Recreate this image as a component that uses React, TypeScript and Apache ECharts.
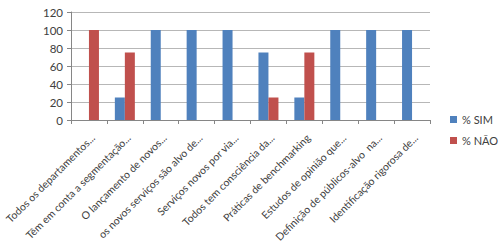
import React, { useEffect, useRef } from "react";
import * as echarts from "echarts";

const categories = [
  "Todos os departamentos...",
  "Têm em conta a segmentação...",
  "O lançamento de novos...",
  "os novos serviços são alvo de...",
  "Serviços novos por via...",
  "Todos tem consciência da...",
  "Práticas de benchmarking",
  "Estudos de opinião que...",
  "Definição de públicos-alvo  na...",
  "Identificação rigorosa de...",
];
const simValues = [0, 25, 100, 100, 100, 75, 25, 100, 100, 100];
const naoValues = [100, 75, 0, 0, 0, 25, 75, 0, 0, 0];
const seriesNames = ["% SIM", "% NÃO"];

export default function App() {
  const ref = useRef<HTMLDivElement>(null);
  useEffect(() => {
    document.body.style.margin = "0";
    const chart = echarts.init(ref.current!, null, { renderer: "svg" });
    const font = "Lato, 'Noto Sans', sans-serif";
    chart.setOption({
      animation: false,
      backgroundColor: "#ffffff",
      grid: { left: 71, right: 70, top: 12, bottom: 131, containLabel: false },
      legend: {
        orient: "vertical",
        left: 445,
        top: 109,
        itemWidth: 7,
        itemHeight: 7,
        itemGap: 10,
        icon: "rect",
        textStyle: { fontFamily: font, fontSize: 11, color: "#404040" },
        data: seriesNames,
      },
      xAxis: {
        type: "category",
        data: categories,
        axisLine: { lineStyle: { color: "#868686" } },
        axisTick: { show: true, length: 4, lineStyle: { color: "#868686" } },
        axisLabel: {
          interval: 0,
          rotate: 45,
          fontFamily: font,
          fontSize: 10.5,
          color: "#404040",
          margin: 12,
          align: "right",
          verticalAlign: "top",
        },
      },
      yAxis: {
        type: "value",
        min: 0,
        max: 120,
        interval: 20,
        axisLine: { show: true, lineStyle: { color: "#868686" } },
        axisTick: { show: true, length: 4, lineStyle: { color: "#868686" } },
        splitLine: { lineStyle: { color: "#b7b7b7" } },
        axisLabel: { fontFamily: font, fontSize: 11.5, color: "#404040", margin: 8 },
      },
      series: [
        {
          name: seriesNames[0],
          type: "bar",
          data: simValues,
          itemStyle: { color: "#4f81bd" },
          barWidth: 10,
          barGap: "0%",
        },
        {
          name: seriesNames[1],
          type: "bar",
          data: naoValues,
          itemStyle: { color: "#c0504d" },
          barWidth: 10,
          barGap: "0%",
        },
      ],
    });
    return () => chart.dispose();
  }, []);
  return <div ref={ref} style={{ width: 500, height: 251 }} />;
}
